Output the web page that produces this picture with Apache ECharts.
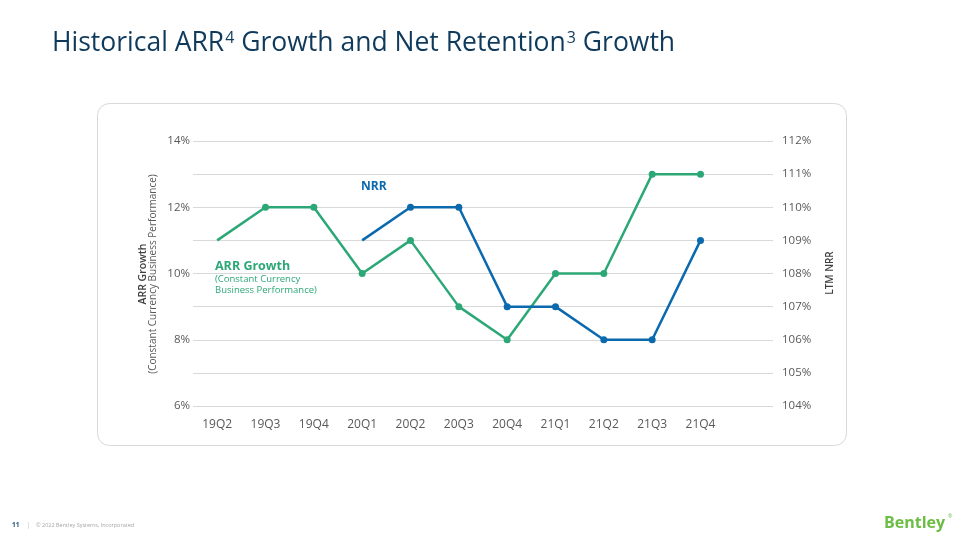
<!DOCTYPE html>
<html>
<head>
<meta charset="utf-8">
<script src="https://cdn.jsdelivr.net/npm/echarts@6/dist/echarts.min.js"></script>
<style>html,body{margin:0;padding:0;background:#fff}#c{width:960px;height:540px}</style>
</head>
<body>
<div id="c"></div>
<script>
const categories = ['19Q2','19Q3','19Q4','20Q1','20Q2','20Q3','20Q4','21Q1','21Q2','21Q3','21Q4',''];
const arrGrowth = [11, 12, 12, 10, 11, 9, 8, 10, 10, 13, 13];
const ltmNrr = [null, null, null, 109, 110, 110, 107, 107, 106, 106, 109];
const leftTicks = [6, 8, 10, 12, 14];

const GREEN = '#2ca877';
const BLUE = '#0b69ae';
const FONT = '"Open Sans", "Noto Sans", sans-serif';

function withFirstPlain(arr) {
  let first = true;
  return arr.map(v => {
    if (v === null) return '-';
    if (first) { first = false; return { value: v, symbol: 'none' }; }
    return v;
  });
}

const chart = echarts.init(document.getElementById('c'), null, { renderer: 'canvas' });
chart.setOption({
  backgroundColor: '#ffffff',
  animation: false,
  textStyle: { fontFamily: FONT },
  title: {
    left: 47, top: 21,
    text: '{a|Historical ARR}{s|4}{a| Growth and Net Retention}{s|3}{a| Growth}',
    textStyle: {
      fontWeight: 'normal',
      rich: {
        a: { fontFamily: FONT, fontSize: 26.5, fontWeight: 'normal', color: '#0f3a5c', lineHeight: 31, verticalAlign: 'bottom' },
        s: { fontFamily: FONT, fontSize: 16, fontWeight: 'normal', color: '#0f3a5c', lineHeight: 31, verticalAlign: 'top', padding: [4, 0, 0, 1] }
      }
    }
  },
  grid: { left: 193, right: 187, top: 141, bottom: 134, containLabel: false },
  xAxis: {
    type: 'category',
    data: categories,
    boundaryGap: true,
    axisLine: { show: false },
    axisTick: { show: false },
    axisLabel: { color: '#595959', fontSize: 12, margin: 13, fontFamily: FONT }
  },
  yAxis: [
    {
      type: 'value', min: 6, max: 14, interval: 1,
      axisLine: { show: false }, axisTick: { show: false },
      splitLine: { lineStyle: { color: '#d9d9d9', width: 1 } },
      axisLabel: {
        color: '#595959', fontSize: 11.5, margin: 3, fontFamily: FONT,
        formatter: v => leftTicks.indexOf(v) >= 0 ? v + '%' : ''
      }
    },
    {
      type: 'value', min: 104, max: 112, interval: 1, position: 'right',
      axisLine: { show: false }, axisTick: { show: false },
      splitLine: { show: false },
      axisLabel: { color: '#595959', fontSize: 11.5, margin: 9, fontFamily: FONT, formatter: '{value}%' }
    }
  ],
  series: [
    {
      name: 'ARR Growth', type: 'line', yAxisIndex: 0,
      data: withFirstPlain(arrGrowth),
      symbol: 'circle', symbolSize: 7,
      lineStyle: { color: GREEN, width: 2.5 },
      itemStyle: { color: GREEN },
      z: 3
    },
    {
      name: 'NRR', type: 'line', yAxisIndex: 1,
      data: withFirstPlain(ltmNrr),
      symbol: 'circle', symbolSize: 7,
      lineStyle: { color: BLUE, width: 2.5 },
      itemStyle: { color: BLUE },
      z: 4
    }
  ],
  graphic: [
    { type: 'rect', z: -10, shape: { x: 97.5, y: 103.5, width: 749, height: 342, r: 12 },
      style: { fill: '#ffffff', stroke: '#d9d9d9', lineWidth: 1 } },
    { type: 'text', x: 143, y: 274, rotation: Math.PI / 2,
      style: { text: 'ARR Growth', fill: '#404040', font: '600 10.5px ' + FONT, align: 'center', verticalAlign: 'middle' } },
    { type: 'text', x: 153, y: 274, rotation: Math.PI / 2,
      style: { text: '(Constant Currency Business Performance)', fill: '#595959', font: '10px ' + FONT, align: 'center', verticalAlign: 'middle' } },
    { type: 'text', x: 830, y: 273, rotation: Math.PI / 2,
      style: { text: 'LTM NRR', fill: '#404040', font: '600 10px ' + FONT, align: 'center', verticalAlign: 'middle' } },
    { type: 'text', x: 361, y: 187,
      style: { text: 'NRR', fill: BLUE, font: 'bold 12px ' + FONT, align: 'left', verticalAlign: 'middle' } },
    { type: 'text', x: 215, y: 266,
      style: { text: 'ARR Growth', fill: GREEN, font: 'bold 12.5px ' + FONT, align: 'left', verticalAlign: 'middle' } },
    { type: 'text', x: 215, y: 279,
      style: { text: '(Constant Currency', fill: GREEN, font: '9.5px ' + FONT, align: 'left', verticalAlign: 'middle' } },
    { type: 'text', x: 215, y: 290,
      style: { text: 'Business Performance)', fill: GREEN, font: '9.5px ' + FONT, align: 'left', verticalAlign: 'middle' } },
    { type: 'text', x: 12, y: 525,
      style: { text: '11', fill: '#1f4e79', font: 'bold 6.5px ' + FONT, align: 'left', verticalAlign: 'middle' } },
    { type: 'text', x: 27, y: 525,
      style: { text: '|', fill: '#bfbfbf', font: '6.5px ' + FONT, align: 'left', verticalAlign: 'middle' } },
    { type: 'text', x: 36, y: 525,
      style: { text: '© 2022 Bentley Systems, Incorporated', fill: '#a6a6a6', font: '5.5px ' + FONT, align: 'left', verticalAlign: 'middle' } },
    { type: 'text', x: 884, y: 523,
      style: { text: 'Bentley', fill: '#6cbd45', font: 'bold 16px ' + FONT, align: 'left', verticalAlign: 'middle' } },
    { type: 'text', x: 948, y: 517,
      style: { text: '®', fill: '#6cbd45', font: '5px ' + FONT, align: 'left', verticalAlign: 'middle' } }
  ]
});
</script>
</body>
</html>
